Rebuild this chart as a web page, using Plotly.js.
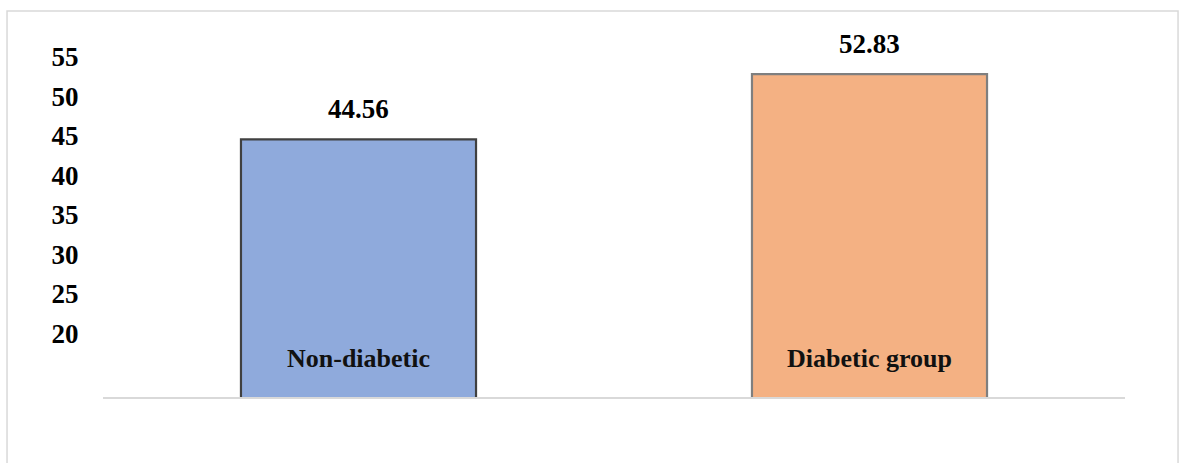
<!DOCTYPE html>
<html>
<head>
<meta charset="utf-8">
<script src="https://cdn.plot.ly/plotly-3.0.1.min.js"></script>
<style>html,body{margin:0;padding:0;background:#fff;}#chart{width:1179px;height:463px;}</style>
</head>
<body>
<div id="chart"></div>
<script>
var categories = ["Non-diabetic", "Diabetic group"];
var values = [44.56, 52.83];
var barColors = ["#8FAADC", "#F4B183"];
var barLineColors = ["#404040", "#7F7F7F"];
var tickValues = [20, 25, 30, 35, 40, 45, 50, 55];

var font = "Liberation Serif, Times New Roman, serif";

var trace = {
  type: "bar",
  x: categories,
  y: values,
  marker: {color: barColors, line: {color: barLineColors, width: 2.2}},
  hoverinfo: "x+y"
};

var annotations = [];
categories.forEach(function (c, i) {
  annotations.push({
    x: c, y: values[i], xref: "x", yref: "y",
    text: "<b>" + values[i].toFixed(2) + "</b>",
    showarrow: false, yanchor: "bottom", yshift: 13,
    font: {family: font, size: 27, color: "#000"}
  });
  annotations.push({
    x: c, y: 0.109, xref: "x", yref: "paper",
    text: "<b>" + c + "</b>",
    showarrow: false, yanchor: "middle",
    font: {family: font, size: 26, color: "#111"}
  });
});

var layout = {
  width: 1179, height: 463,
  margin: {l: 103, r: 54, t: 40, b: 66},
  paper_bgcolor: "#fff", plot_bgcolor: "#fff",
  showlegend: false,
  bargap: 0.54,
  xaxis: {
    showticklabels: false, showgrid: false, zeroline: false,
    showline: true, linecolor: "#D9D9D9", linewidth: 1.5
  },
  yaxis: {
    range: [11.9, 57.15],
    tickvals: tickValues,
    ticktext: tickValues.map(String),
    showgrid: false, zeroline: false, showline: false,
    ticks: "outside", ticklen: 18, tickcolor: "rgba(0,0,0,0)",
    tickfont: {family: font, size: 27, color: "#000", weight: "bold"}
  },
  annotations: annotations,
  shapes: [{
    type: "rect", xref: "paper", yref: "paper",
    x0: -0.0939, x1: 1.0519, y0: -0.25, y1: 1.0812,
    line: {color: "#D9D9D9", width: 1.5}, fillcolor: "rgba(0,0,0,0)", layer: "below"
  }]
};

Plotly.newPlot("chart", [trace], layout, {displayModeBar: false, staticPlot: true});
</script>
</body>
</html>
